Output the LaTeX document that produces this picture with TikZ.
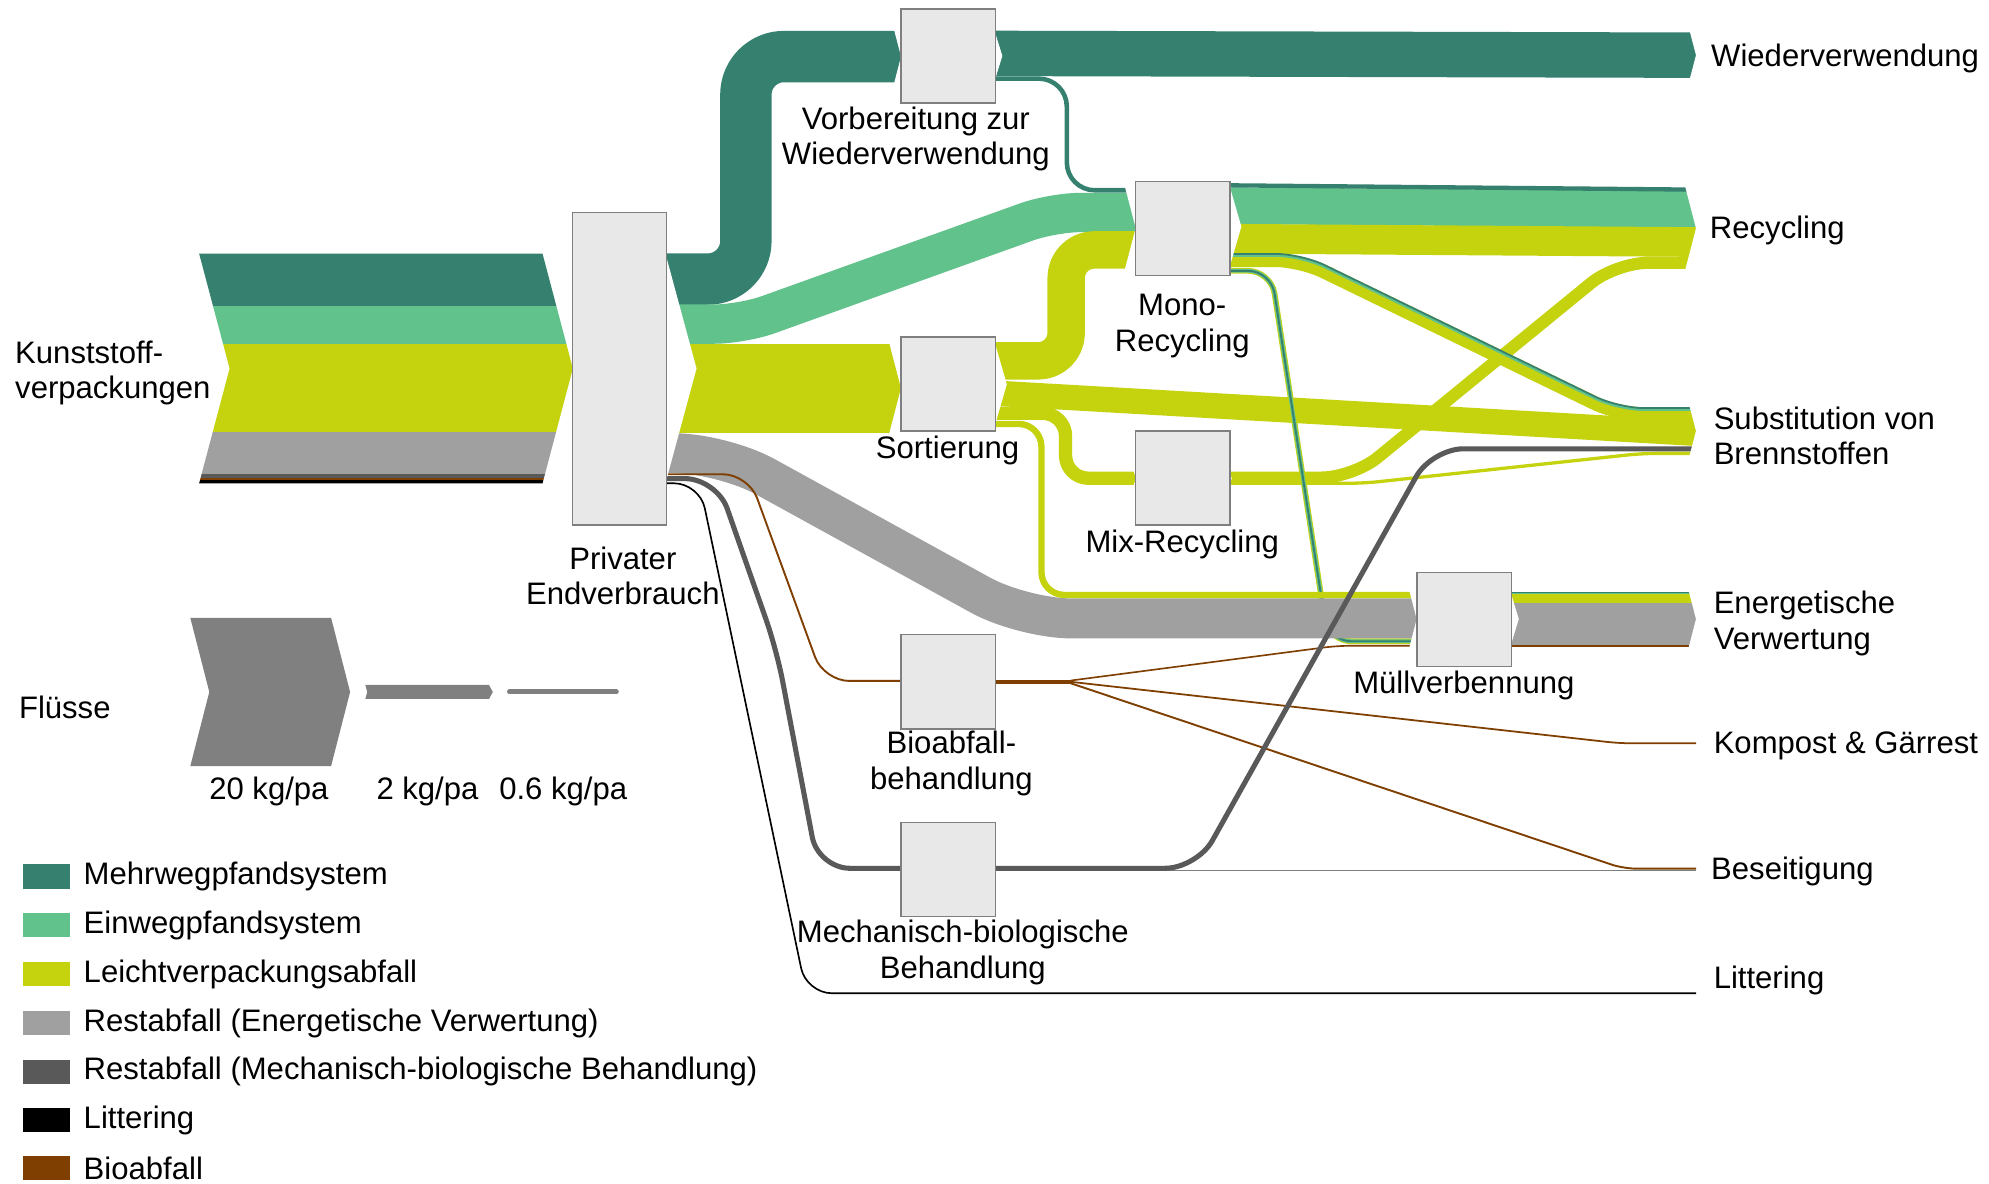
\documentclass[tikz,border=0pt]{standalone}
\usepackage{fontspec}
\setmainfont{Liberation Sans}
\definecolor{cMehrweg}{HTML}{35806F}
\definecolor{cEinweg}{HTML}{62C28C}
\definecolor{cLvp}{HTML}{C5D30F}
\definecolor{cRestEV}{HTML}{A0A0A0}
\definecolor{cRestMBA}{HTML}{595959}
\definecolor{cBio}{HTML}{7F3F00}
\definecolor{cBoxFill}{HTML}{E8E8E8}
\definecolor{cBoxLine}{HTML}{7F7F7F}
\definecolor{cLegend}{HTML}{808080}
\pgfdeclarelayer{front}
\pgfsetlayers{main,front}
% white wedge that turns the end of a band into a point touching x=#1
\newcommand\cutin[4]{\fill[white] ({#1-#4},{#2-1.5}) -- ({#1-#4},#2) -- (#1,{(#2+#3)/2}) -- ({#1-#4},#3) -- ({#1-#4},{#3+1.5}) -- ({#1+1},{#3+1.5}) -- ({#1+1},{#2-1.5}) -- cycle;}
% white wedge that notches the start of the bands leaving a box at x=#1
\newcommand\cutout[4]{\fill[white] ({#1-1},#2) -- ({#1+#4},{(#2+#3)/2}) -- ({#1-1},#3) -- cycle;}
\begin{document}
\begin{tikzpicture}[x=1pt,y=-1pt,
  stage/.style={draw=cBoxLine,fill=cBoxFill,line width=1.2pt,minimum width=74.6pt,minimum height=74.2pt,inner sep=0pt,outer sep=0pt},
  txt/.style={font=\fontsize{24.5}{28}\selectfont,inner sep=0pt,outer sep=0pt,align=center},
  sink/.style={txt,anchor=west,align=left},
  band/.style={line cap=butt,line join=round},
]
\useasboundingbox (0,0) rectangle (1568,933);

% ---------- process boxes (front layer) ----------
\begin{pgfonlayer}{front}
\node[stage,minimum height=246.5pt,minimum width=74.1pt] (priv) at (488.55,290.65) {};
\node[stage] (vorb) at (747.65,44.05) {};
\node[stage] (mono) at (932.5,180) {};
\node[stage] (sort) at (747.65,302.75) {};
\node[stage] (mix)  at (932.5,376.85) {};
\node[stage] (mull) at (1154.25,488.4) {};
\node[stage] (bioa) at (747.65,537.4) {};
\node[stage] (mba)  at (747.65,685.45) {};

\node[txt] (lpriv) at (491,454) {Privater\\Endverbrauch};
\node[txt] (lvorb) at (722,109.5) {Vorbereitung zur\\Wiederverwendung};
\node[txt] (lmono) at (932,257) {Mono-\\Recycling};
\node[txt] (lsort) at (747,355) {Sortierung};
\node[txt] (lmix)  at (932,429) {Mix-Recycling};
\node[txt] (lmull) at (1154,540) {Müllverbennung};
\node[txt] (lbio)  at (750,602) {Bioabfall-\\behandlung};
\node[txt] (lmba)  at (759,751) {Mechanisch-biologische\\Behandlung};
\node[sink] (lin) at (12,294) {Kunststoff-\\verpackungen};

\node[sink] (swv)  at (1349,46)  {Wiederverwendung};
\node[sink] (srec) at (1348,182) {Recycling};
\node[sink] (ssub) at (1351,343.5) {Substitution von\\Brennstoffen};
\node[sink] (sev)  at (1351,491.5) {Energetische\\Verwertung};
\node[sink] (skg)  at (1351,588) {Kompost \& Gärrest};
\node[sink] (sbes) at (1349,687) {Beseitigung};
\node[sink] (slit) at (1351,773) {Littering};
\end{pgfonlayer}
\coordinate (sx) at (1337,0);

% ---------- input band ----------
\begin{scope}
\clip (157,200) -- (427.7,200) -- (451.6,290.5) -- (427.7,381) -- (157,381) -- (181,290.5) -- cycle;
\fill[cMehrweg] (150,199) rectangle (460,241);
\fill[cEinweg]  (150,241) rectangle (460,271);
\fill[cLvp]     (150,271) rectangle (460,340.5);
\fill[cRestEV]  (150,340.5) rectangle (460,373.6);
\fill[cRestMBA] (150,373.6) rectangle (460,376.7);
\fill[cBio]     (150,376.7) rectangle (460,378.6);
\fill[black]    (150,378.6) rectangle (460,382);
\end{scope}

% ---------- Mehrweg ----------
\draw[band,cMehrweg,line width=40.5pt,rounded corners=30pt]
  (priv.east |- 0,220) -- (588,220) -- (588,44.6) -- (vorb.west |- 0,44.6);
\draw[band,cMehrweg,line width=35.8pt] (vorb.east |- 0,42.1) -- (sx |- 0,43.5);
\draw[band,cMehrweg,line width=3.6pt,rounded corners=22pt]
  (vorb.east |- 0,62) -- (841,62) -- (841,150) -- (mono.west |- 0,150);

% ---------- Einweg ----------
\draw[band,cEinweg,line width=31pt,rounded corners=22pt]
  (priv.east |- 0,255.5) -- (585,255.5) -- (830,167.5) -- (mono.west |- 0,167.5);

% ---------- Leichtverpackungen ----------
\draw[band,cLvp,line width=70pt] (priv.east |- 0,306) -- (sort.west |- 0,306);
\draw[band,cLvp,line width=29.5pt,rounded corners=22pt]
  (sort.east |- 0,284.5) -- (840.5,284.5) -- (840.5,197) -- (mono.west |- 0,197);
\draw[band,cLvp,line width=20pt] (sort.east |- 0,310) -- (sx |- 0,341.6);
\draw[band,cLvp,line width=10.5pt,rounded corners=18pt]
  (sort.east |- 0,325.8) -- (840,325.8) -- (840,377) -- (mix.west |- 0,377);

% Mono-Recycling -> Recycling
\draw[band,cEinweg,line width=29pt] (mono.east |- 0,162.2) -- (sx |- 0,165.1);
\draw[band,cLvp,line width=23.4pt] (mono.east |- 0,188.2) -- (sx |- 0,190.8);
\draw[band,cMehrweg,line width=3.4pt] (mono.east |- 0,146.1) -- (sx |- 0,149.5);

% Mix-Recycling outputs
\draw[band,cLvp,line width=9.6pt,rounded corners=25pt]
  (mix.east |- 0,376.5) -- (1066.7,376.5) -- (1273.8,207.2) -- (sx |- 0,207.2);
\draw[band,cLvp,line width=2.6pt,rounded corners=12pt]
  (mix.east |- 0,381) -- (1075,381) -- (1295,357.4) -- (sx |- 0,357.4);

% Mono-Recycling -> Substitution
\draw[band,cLvp,line width=11pt,rounded corners=20pt]
  (mono.east |- 0,205) -- (1025,205) -- (1275,326.5) -- (sx |- 0,326.5);
\draw[band,cEinweg,line width=2pt,rounded corners=20pt]
  (mono.east |- 0,201.5) -- (1025.8,201.5) -- (1275.8,323) -- (sx |- 0,323);
\draw[band,cMehrweg,line width=1.4pt,rounded corners=20pt]
  (mono.east |- 0,200.2) -- (1026.1,200.2) -- (1276.1,321.7) -- (sx |- 0,321.7);

% Mono-Recycling -> Müllverbrennung
\draw[band,cLvp,line width=4.5pt,rounded corners=18pt]
  (mono.east |- 0,213.5) -- (1002,213.5) -- (1047,505.5) -- (mull.west |- 0,505.5);
\draw[band,cEinweg,line width=3pt,rounded corners=18pt]
  (mono.east |- 0,213.5) -- (1002,213.5) -- (1047,505.5) -- (mull.west |- 0,505.5);
\draw[band,cMehrweg,line width=1.5pt,rounded corners=18pt]
  (mono.east |- 0,213.5) -- (1002,213.5) -- (1047,505.5) -- (mull.west |- 0,505.5);

% ---------- Restabfall ----------
\draw[band,cRestEV,line width=31.5pt,rounded corners=38pt]
  (priv.east |- 0,357.3) -- (569.6,357.3) -- (806.3,487.5) -- (mull.west |- 0,487.5);
\draw[band,cLvp,line width=5pt,rounded corners=18pt]
  (sort.east |- 0,334.2) -- (821,334.2) -- (821,469) -- (mull.west |- 0,469);

% ---------- Bioabfall ----------
\draw[band,cBio,line width=1.5pt,rounded corners=20pt]
  (priv.east |- 0,373.9) -- (590,373.9) -- (649.4,536.8) -- (bioa.west |- 0,536.8);
\draw[band,cBio,line width=3.2pt] (bioa.east |- 0,537.4) -- (846,537.4);
\draw[band,cBio,line width=1.3pt,rounded corners=10pt]
  (844,536.5) -- (1054,509.1) -- (mull.west |- 0,509.1);
\draw[band,cBio,line width=1.4pt,rounded corners=10pt]
  (844,537.5) -- (1277,586) -- (sx |- 0,586);

% Mechanisch-biologische Behandlung
\draw[band,cBoxLine,line width=1.2pt] (mba.east |- 0,686.4) -- (sx |- 0,686.4);
\draw[band,cBio,line width=1.5pt,rounded corners=10pt]
  (844,538.6) -- (1280,684.8) -- (sx |- 0,684.8);

% ---------- Littering ----------
\draw[band,black,line width=1.3pt,rounded corners=20pt]
  (priv.east |- 0,381) -- (551.5,381) -- (635.7,783) [rounded corners=35pt] -- (sx |- 0,783);

% ---------- Restabfall MBA ----------
\draw[band,cRestMBA,line width=4pt,rounded corners=25pt]
  (priv.east |- 0,377.3) -- (565,377.3) -- (612.3,512.4) -- (645,684.5) -- (mba.west |- 0,684.5);
\draw[band,cRestMBA,line width=4pt,rounded corners=25pt]
  (mba.east |- 0,684.5) -- (943.5,684.5) -- (1128.7,353.8) -- (sx |- 0,353.8);

% ---------- Energetische Verwertung ----------
\fill[cMehrweg] (mull.east |- 0,466.4) rectangle (1337,467.4);
\fill[cEinweg]  (mull.east |- 0,467.4) rectangle (1337,468.4);
\fill[cLvp]     (mull.east |- 0,468.4) rectangle (1337,475.1);
\fill[cRestEV]  (mull.east |- 0,475.1) rectangle (1337,508.5);
\fill[cBio]     (mull.east |- 0,508.5) rectangle (1337,509.7);

% ---------- pointed ends and notches ----------
\cutout{525.6}{200}{381}{23.5}
\cutin{710.3}{24.2}{65}{5.3}
\cutout{785}{24.2}{64}{5.2}
\cutin{895.3}{148}{211.5}{8.3}
\cutout{969.7}{144.5}{212.8}{8.9}
\cutin{710.3}{271}{341}{9.1}
\cutout{785}{269.4}{336.4}{8.7}
\cutin{895.3}{371.8}{382.3}{1.4}
\cutout{969.7}{371.8}{382.3}{1.4}
\cutin{1116.8}{466.4}{509.7}{5.6}
\cutout{1191.7}{466.4}{509.7}{5.6}
\cutin{1337}{25.6}{61.4}{4.7}
\cutin{1337}{148}{212}{8.3}
\cutin{1337}{320.6}{358.8}{5}
\cutin{1337}{466.4}{509.7}{5.6}

% ---------- legend: flow widths ----------
\node[txt,anchor=west] (lflow) at (15,558) {Flüsse};
\fill[cLegend] (150,487) -- (261,487) -- (276,545.5) -- (261,604) -- (150,604) -- (165,545.5) -- cycle;
\fill[cLegend] (288,540) -- (385.5,540) -- (388.5,545.5) -- (385.5,551) -- (288,551) -- (289.5,545.5) -- cycle;
\draw[cLegend,line width=3.6pt,line cap=round] (401.5,545.3) -- (486,545.3);
\node[txt] (l20) at (212,624) {20 kg/pa};
\node[txt] (l2)  at (337,624) {2 kg/pa};
\node[txt] (l06) at (444,624) {0.6 kg/pa};

% ---------- legend: categories ----------
\foreach \c/\t/\y [count=\i] in {
  cMehrweg/Mehrwegpfandsystem/691,
  cEinweg/Einwegpfandsystem/729.5,
  cLvp/Leichtverpackungsabfall/768,
  cRestEV/Restabfall (Energetische Verwertung)/806.5,
  cRestMBA/Restabfall (Mechanisch-biologische Behandlung)/845,
  black/Littering/883,
  cBio/Bioabfall/921}{
  \fill[\c] (18,\y-9.5) rectangle (55,\y+9.5);
  \node[txt,anchor=west] (leg\i) at (66,\y) {\t};
}
\end{tikzpicture}
\end{document}
